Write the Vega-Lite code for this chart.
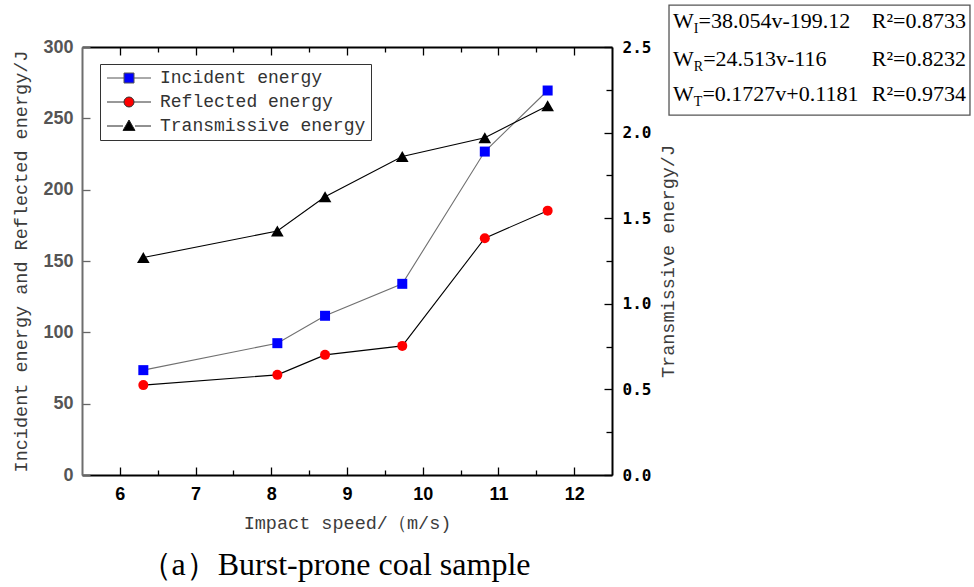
{
  "$schema": "https://vega.github.io/schema/vega-lite/v6.json",
  "width": 530,
  "height": 428,
  "autosize": {"type": "none"},
  "padding": {"left": 82, "top": 47, "right": 362, "bottom": 112},
  "background": "white",
  "config": {"view": {"stroke": null}, "axis": {"grid": false}},
  "title": {"text": "（a）Burst-prone coal sample", "orient": "bottom", "anchor": "middle", "frame": "group", "font": "Liberation Serif", "fontSize": 32, "fontWeight": "normal", "color": "#000000", "offset": 18, "dx": -12},
  "datasets": {
    "energy": [
      {"speed": 6.31, "series": "Incident energy", "value": 73.5},
      {"speed": 8.08, "series": "Incident energy", "value": 92.4},
      {"speed": 8.71, "series": "Incident energy", "value": 111.6},
      {"speed": 9.73, "series": "Incident energy", "value": 134},
      {"speed": 10.82, "series": "Incident energy", "value": 226.7},
      {"speed": 11.65, "series": "Incident energy", "value": 269.5},
      {"speed": 6.31, "series": "Reflected energy", "value": 63},
      {"speed": 8.08, "series": "Reflected energy", "value": 70.2},
      {"speed": 8.71, "series": "Reflected energy", "value": 84.2},
      {"speed": 9.73, "series": "Reflected energy", "value": 90.5},
      {"speed": 10.82, "series": "Reflected energy", "value": 166},
      {"speed": 11.65, "series": "Reflected energy", "value": 185.3}
    ],
    "trans": [
      {"speed": 6.31, "series": "Transmissive energy", "value": 1.27},
      {"speed": 8.08, "series": "Transmissive energy", "value": 1.425},
      {"speed": 8.71, "series": "Transmissive energy", "value": 1.625},
      {"speed": 9.73, "series": "Transmissive energy", "value": 1.86},
      {"speed": 10.82, "series": "Transmissive energy", "value": 1.97},
      {"speed": 11.65, "series": "Transmissive energy", "value": 2.157}
    ],
    "fits": [
      {"sub": "I", "eq": "=38.054v-199.12", "r2": "R²=0.8733"},
      {"sub": "R", "eq": "=24.513v-116", "r2": "R²=0.8232"},
      {"sub": "T", "eq": "=0.1727v+0.1181", "r2": "R²=0.9734"}
    ],
    "series": [
      {"series": "Incident energy"},
      {"series": "Reflected energy"},
      {"series": "Transmissive energy"}
    ]
  },
  "layer": [
    {
      "layer": [
        {
          "data": {"name": "energy"},
          "transform": [{"filter": "datum.series === 'Incident energy'"}],
          "mark": {"type": "line", "strokeWidth": 1.1, "color": "#707070"},
          "encoding": {
            "x": {
              "field": "speed", "type": "quantitative",
              "scale": {"domain": [5.5, 12.5], "nice": false, "zero": false},
              "axis": {
                "orient": "bottom",
                "title": "Impact speed/（m/s)",
                "titleFont": "Liberation Mono", "titleFontSize": 18.5, "titleFontWeight": "normal", "titleColor": "#3c3c3c", "titlePadding": 10,
                "values": [6, 6.5, 7, 7.5, 8, 8.5, 9, 9.5, 10, 10.5, 11, 11.5, 12],
                "labelExpr": "datum.value % 1 === 0 ? format(datum.value, 'd') : ''",
                "labelFont": "Liberation Sans", "labelFontSize": 18, "labelFontWeight": "bold", "labelColor": "#000000", "labelPadding": 18,
                "tickSize": {"condition": {"test": "datum.value % 1 === 0", "value": -8}, "value": -5},
                "tickColor": "#000000", "tickWidth": 1.3,
                "domainColor": "#000000", "domainWidth": 2, "grid": false
              }
            },
            "y": {
              "field": "value", "type": "quantitative",
              "scale": {"domain": [0, 300], "nice": false},
              "axis": {
                "orient": "left",
                "title": "Incident energy and Reflected energy/J",
                "titleFont": "Liberation Mono", "titleFontSize": 18.5, "titleFontWeight": "normal", "titleColor": "#3c3c3c", "titlePadding": 12,
                "values": [0, 25, 50, 75, 100, 125, 150, 175, 200, 225, 250, 275, 300],
                "labelExpr": "datum.value % 50 === 0 ? format(datum.value, 'd') : ''",
                "labelFont": "Liberation Sans", "labelFontSize": 18, "labelFontWeight": "bold", "labelColor": "#555555", "labelPadding": 17,
                "tickSize": {"condition": {"test": "datum.value % 50 === 0", "value": -8}, "value": -6},
                "tickColor": "#666666", "tickWidth": 1.3,
                "domainColor": "#6e6e6e", "domainWidth": 2, "grid": false
              }
            }
          }
        },
        {
          "data": {"name": "energy"},
          "transform": [{"filter": "datum.series === 'Reflected energy'"}],
          "mark": {"type": "line", "strokeWidth": 1.1, "color": "#000000"},
          "encoding": {
            "x": {"field": "speed", "type": "quantitative"},
            "y": {"field": "value", "type": "quantitative"}
          }
        },
        {
          "data": {"name": "energy"},
          "transform": [{"filter": "datum.series === 'Incident energy'"}],
          "mark": {"type": "point", "shape": "square", "filled": true, "opacity": 1, "size": 100, "strokeWidth": 0, "color": "#0000ff"},
          "encoding": {
            "x": {"field": "speed", "type": "quantitative"},
            "y": {"field": "value", "type": "quantitative"}
          }
        },
        {
          "data": {"name": "energy"},
          "transform": [{"filter": "datum.series === 'Reflected energy'"}],
          "mark": {"type": "point", "shape": "circle", "filled": true, "opacity": 1, "size": 100, "strokeWidth": 0, "color": "#ff0000"},
          "encoding": {
            "x": {"field": "speed", "type": "quantitative"},
            "y": {"field": "value", "type": "quantitative"}
          }
        },
        {
          "data": {"name": "series"},
          "mark": {"type": "point", "filled": true, "opacity": 0, "size": 100, "strokeWidth": 1},
          "encoding": {
            "x": {"datum": 9, "type": "quantitative"},
            "y": {"datum": 150, "type": "quantitative"},
            "fill": {
              "field": "series", "type": "nominal",
              "scale": {"domain": ["Incident energy", "Reflected energy", "Transmissive energy"], "range": ["#0000ff", "#ff0000", "#000000"]},
              "legend": {
                "title": null, "orient": "none", "legendX": 18, "legendY": 17,
                "strokeColor": "#333333", "fillColor": "#ffffff", "padding": 5,
                "symbolSize": 100, "rowPadding": 6, "labelOffset": 37,
                "symbolOpacity": 1, "symbolStrokeWidth": 1,
                "labelFont": "Liberation Mono", "labelFontSize": 18, "labelColor": "#333333", "labelLimit": 400
              }
            },
            "shape": {
              "field": "series", "type": "nominal",
              "scale": {"domain": ["Incident energy", "Reflected energy", "Transmissive energy"], "range": ["M-1.4,0H2M4,0H7.4M2,-1H4V1H2Z", "M-1.4,0H2M4,0H7.4M4,0A1,1,0,1,1,2,0A1,1,0,1,1,4,0Z", "M-1.4,0H1.8M4.2,0H7.4M3,-1.2L4.2,0.9H1.8Z"]},
              "legend": {
                "title": null, "orient": "none", "legendX": 18, "legendY": 17,
                "strokeColor": "#333333", "fillColor": "#ffffff", "padding": 5,
                "symbolSize": 100, "rowPadding": 6, "labelOffset": 37,
                "symbolOpacity": 1, "symbolStrokeWidth": 1,
                "labelFont": "Liberation Mono", "labelFontSize": 18, "labelColor": "#333333", "labelLimit": 400
              }
            },
            "stroke": {
              "field": "series", "type": "nominal",
              "scale": {"domain": ["Incident energy", "Reflected energy", "Transmissive energy"], "range": ["#555555", "#333333", "#222222"]},
              "legend": {
                "title": null, "orient": "none", "legendX": 18, "legendY": 17,
                "strokeColor": "#333333", "fillColor": "#ffffff", "padding": 5,
                "symbolSize": 100, "rowPadding": 6, "labelOffset": 37,
                "symbolOpacity": 1, "symbolStrokeWidth": 1,
                "labelFont": "Liberation Mono", "labelFontSize": 18, "labelColor": "#333333", "labelLimit": 400
              }
            }
          }
        },
        {
          "data": {"values": [{"label": "fit equations"}]},
          "mark": {"type": "rect", "fill": "#ffffff", "stroke": "#555555", "strokeWidth": 1.3},
          "encoding": {
            "x": {"datum": 13.253, "type": "quantitative"}, "x2": {"datum": 17.228},
            "y": {"datum": 329.4, "type": "quantitative"}, "y2": {"datum": 252.3}
          }
        },
        {
          "data": {"name": "fits"},
          "transform": [{"filter": "datum.sub === 'I'"}],
          "encoding": {"y": {"datum": 313.3, "type": "quantitative"}},
          "layer": [
            {"mark": {"type": "text", "align": "left", "baseline": "alphabetic", "font": "Liberation Serif", "fontSize": 22, "color": "#000000"}, "encoding": {"x": {"datum": 13.306, "type": "quantitative"}, "text": {"value": "W"}}},
            {"mark": {"type": "text", "align": "left", "baseline": "alphabetic", "font": "Liberation Serif", "fontSize": 14, "color": "#000000", "dx": 20.8, "dy": 5}, "encoding": {"x": {"datum": 13.306, "type": "quantitative"}, "text": {"field": "sub"}}},
            {"mark": {"type": "text", "align": "left", "baseline": "alphabetic", "font": "Liberation Serif", "fontSize": 22, "color": "#000000", "dx": 25.5}, "encoding": {"x": {"datum": 13.306, "type": "quantitative"}, "text": {"field": "eq"}}},
            {"mark": {"type": "text", "align": "right", "baseline": "alphabetic", "font": "Liberation Serif", "fontSize": 22, "color": "#000000"}, "encoding": {"x": {"datum": 17.176, "type": "quantitative"}, "text": {"field": "r2"}}}
          ]
        },
        {
          "data": {"name": "fits"},
          "transform": [{"filter": "datum.sub === 'R'"}],
          "encoding": {"y": {"datum": 286.7, "type": "quantitative"}},
          "layer": [
            {"mark": {"type": "text", "align": "left", "baseline": "alphabetic", "font": "Liberation Serif", "fontSize": 22, "color": "#000000"}, "encoding": {"x": {"datum": 13.306, "type": "quantitative"}, "text": {"value": "W"}}},
            {"mark": {"type": "text", "align": "left", "baseline": "alphabetic", "font": "Liberation Serif", "fontSize": 14, "color": "#000000", "dx": 20.8, "dy": 5}, "encoding": {"x": {"datum": 13.306, "type": "quantitative"}, "text": {"field": "sub"}}},
            {"mark": {"type": "text", "align": "left", "baseline": "alphabetic", "font": "Liberation Serif", "fontSize": 22, "color": "#000000", "dx": 30.1}, "encoding": {"x": {"datum": 13.306, "type": "quantitative"}, "text": {"field": "eq"}}},
            {"mark": {"type": "text", "align": "right", "baseline": "alphabetic", "font": "Liberation Serif", "fontSize": 22, "color": "#000000"}, "encoding": {"x": {"datum": 17.176, "type": "quantitative"}, "text": {"field": "r2"}}}
          ]
        },
        {
          "data": {"name": "fits"},
          "transform": [{"filter": "datum.sub === 'T'"}],
          "encoding": {"y": {"datum": 262.2, "type": "quantitative"}},
          "layer": [
            {"mark": {"type": "text", "align": "left", "baseline": "alphabetic", "font": "Liberation Serif", "fontSize": 22, "color": "#000000"}, "encoding": {"x": {"datum": 13.306, "type": "quantitative"}, "text": {"value": "W"}}},
            {"mark": {"type": "text", "align": "left", "baseline": "alphabetic", "font": "Liberation Serif", "fontSize": 14, "color": "#000000", "dx": 20.8, "dy": 5}, "encoding": {"x": {"datum": 13.306, "type": "quantitative"}, "text": {"field": "sub"}}},
            {"mark": {"type": "text", "align": "left", "baseline": "alphabetic", "font": "Liberation Serif", "fontSize": 22, "color": "#000000", "dx": 29.4}, "encoding": {"x": {"datum": 13.306, "type": "quantitative"}, "text": {"field": "eq"}}},
            {"mark": {"type": "text", "align": "right", "baseline": "alphabetic", "font": "Liberation Serif", "fontSize": 22, "color": "#000000"}, "encoding": {"x": {"datum": 17.176, "type": "quantitative"}, "text": {"field": "r2"}}}
          ]
        }
      ]
    },
    {
      "data": {"name": "trans"},
      "encoding": {
        "x": {
          "field": "speed", "type": "quantitative",
          "scale": {"domain": [5.5, 12.5], "nice": false, "zero": false},
          "axis": {
            "orient": "top", "title": null, "labels": false,
            "values": [6, 6.5, 7, 7.5, 8, 8.5, 9, 9.5, 10, 10.5, 11, 11.5, 12],
            "tickSize": {"condition": {"test": "datum.value % 1 === 0", "value": -8}, "value": -5},
            "tickColor": "#000000", "tickWidth": 1.3,
            "domainColor": "#000000", "domainWidth": 2, "grid": false
          }
        },
        "y": {
          "field": "value", "type": "quantitative",
          "scale": {"domain": [0, 2.5], "nice": false},
          "axis": {
            "orient": "right",
            "title": "Transmissive energy/J",
            "titleAngle": 270, "titleBaseline": "top",
            "titleFont": "Liberation Mono", "titleFontSize": 18.5, "titleFontWeight": "normal", "titleColor": "#3c3c3c", "titlePadding": 8,
            "values": [0, 0.25, 0.5, 0.75, 1, 1.25, 1.5, 1.75, 2, 2.25, 2.5],
            "labelExpr": "(datum.value * 2) % 1 === 0 ? format(datum.value, '.1f') : ''",
            "labelFont": "DejaVu Sans Mono", "labelFontSize": 16, "labelFontWeight": "bold", "labelColor": "#000000", "labelPadding": 18,
            "tickSize": {"condition": {"test": "(datum.value * 2) % 1 === 0", "value": -8}, "value": -6},
            "tickColor": "#000000", "tickWidth": 1.3,
            "domainColor": "#000000", "domainWidth": 2, "grid": false
          }
        }
      },
      "layer": [
        {"mark": {"type": "line", "strokeWidth": 1.1, "color": "#000000"}},
        {"mark": {"type": "point", "shape": "triangle-up", "filled": true, "opacity": 1, "size": 160, "strokeWidth": 0, "color": "#000000"}}
      ]
    }
  ],
  "resolve": {"scale": {"y": "independent"}, "axis": {"x": "independent"}}
}
